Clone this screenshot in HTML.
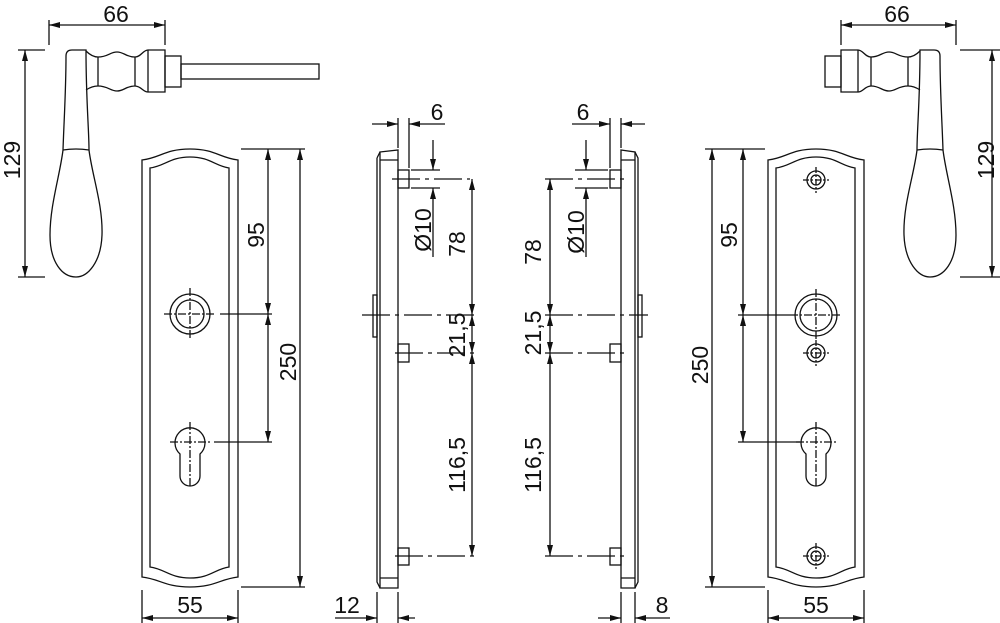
<!DOCTYPE html>
<html><head><meta charset="utf-8"><style>
html,body{margin:0;padding:0;background:#fff}
svg{display:block}
text{font-family:"Liberation Sans",Arial,sans-serif;font-size:23px;fill:#111}
</style></head><body>
<svg width="1000" height="623" viewBox="0 0 1000 623" xmlns="http://www.w3.org/2000/svg">
<defs>
<marker id="a" markerUnits="userSpaceOnUse" markerWidth="12" markerHeight="7" refX="11" refY="3" orient="auto-start-reverse"><path d="M0,0 L11,3 L0,6 Z" fill="#111"/></marker>
<g id="handle">
<path d="M66,56 Q66,50 72,50 L86,50 C86,100 89,130 89,150 C92,175 103,205 102,235 C101,262 88,277 76,277 C62,277 50,262 50,235 C50,205 60,175 63,150 C64,120 66,90 66,56 Z"/>
<path d="M63,150 Q76,148 89,150"/>
<path d="M86,51 Q92,57 98,57 C108,57 110,52 117,52 C124,52 126,57 135,57 C141,57 143,50 148,50 L165,50 L165,92 L148,92 C143,92 141,86 135,86 C126,86 124,91 117,91 C110,91 108,86 98,86 Q92,86 86,90"/>
<path d="M98,57 V86 M135,57 V86 M148,50 V92"/>
<rect x="165" y="56" width="16" height="31"/>
</g>
<g id="screw"><circle r="9"/><circle r="5"/><path d="M-13,0 H13 M0,-13 V13" stroke-dasharray="6 2 2 2"/></g>
<g id="key"><path d="M-10,12 A15,15 0 1 1 10,12 L10,34 A10,10 0 0 1 -10,34 Z"/><path d="M-20,0 H20 M0,-20 V46" stroke-dasharray="8 2 2 2"/></g>
<g id="rose"><circle r="21"/><circle r="16"/><path d="M-26,0 H26 M0,-26 V26" stroke-dasharray="8 2 2 2"/></g>
</defs>
<g fill="none" stroke="#111" stroke-width="1.3">
<use href="#handle"/>
<rect x="181" y="64" width="138" height="15"/>
<use href="#handle" transform="translate(1006,0) scale(-1,1)"/>
<path d="M49,45 V20 M165,45 V20"/>
<path d="M49,25 H165" marker-start="url(#a)" marker-end="url(#a)"/>
<path d="M18,50 H45 M18,277 H45"/>
<path d="M25,50 V277" marker-start="url(#a)" marker-end="url(#a)"/>
<path d="M841,45 V20 M956,45 V20"/>
<path d="M841,25 H956" marker-start="url(#a)" marker-end="url(#a)"/>
<path d="M960,50 H1000 M960,277 H1000"/>
<path d="M992,50 V277" marker-start="url(#a)" marker-end="url(#a)"/>

<path d="M142,160 C160,158 165,149 190,149 C215,149 220,158 238,160 L238,577 C220,579 215,587 190,587 C165,587 160,579 142,577 Z"/>
<path d="M150,168 C165,166 170,157 190,157 C210,157 215,166 229,168 L229,567 C215,569 210,578 190,578 C170,578 165,569 150,567 Z"/>
<g transform="translate(190,314)"><circle r="20"/><circle r="14"/><path d="M-26,0 H26 M0,-26 V26" stroke-dasharray="8 2 2 2"/></g>
<use href="#key" transform="translate(190,442)"/>
<path d="M241,149 H305 M220,314 H272 M214,442 H272 M241,587 H305"/>
<path d="M268,149 V314" marker-start="url(#a)" marker-end="url(#a)"/>
<path d="M268,314 V442" marker-start="url(#a)" marker-end="url(#a)"/>
<path d="M300,149 V587" marker-start="url(#a)" marker-end="url(#a)"/>
<path d="M142,590 V623 M238,590 V623"/>
<path d="M142,618 H238" marker-start="url(#a)" marker-end="url(#a)"/>

<path d="M768,160 C786,158 791,149 816,149 C841,149 846,158 864,160 L864,577 C846,579 841,587 816,587 C791,587 786,579 768,577 Z"/>
<path d="M776,168 C791,166 796,157 816,157 C836,157 841,166 855,168 L855,567 C841,569 836,578 816,578 C796,578 791,569 776,567 Z"/>
<use href="#screw" transform="translate(816,180)"/>
<use href="#rose" transform="translate(816,315)"/>
<use href="#screw" transform="translate(816,353)"/>
<use href="#key" transform="translate(816,442)"/>
<use href="#screw" transform="translate(816,556)"/>
<path d="M705,149 H765 M738,315 H790 M738,442 H800 M705,587 H765"/>
<path d="M743,149 V315" marker-start="url(#a)" marker-end="url(#a)"/>
<path d="M743,315 V442" marker-start="url(#a)" marker-end="url(#a)"/>
<path d="M712,149 V587" marker-start="url(#a)" marker-end="url(#a)"/>
<path d="M768,590 V623 M864,590 V623"/>
<path d="M768,618 H864" marker-start="url(#a)" marker-end="url(#a)"/>

<path d="M380,152 L398,150 L398,588 L380,588 Z"/>
<path d="M380,160 H398 M380,578 H398"/>
<path d="M377,158 L380,152 M377,158 V582 L380,588"/>
<rect x="373" y="295" width="4" height="42"/>
<rect x="398" y="170" width="11" height="18"/>
<rect x="398" y="344" width="11" height="18"/>
<rect x="398" y="548" width="11" height="17"/>
<path d="M392,179 H470 M362,315 H477 M395,353 H477 M395,556 H477" stroke-dasharray="28 5 4 5"/>
<path d="M411,170 H440 M411,188 H440"/>
<path d="M398,118 V148 M409,118 V168"/>
<path d="M372,124 H398" marker-end="url(#a)"/>
<path d="M445,124 H409" marker-end="url(#a)"/>
<path d="M433,140 V170" marker-end="url(#a)"/>
<path d="M433,257 V188" marker-end="url(#a)"/>
<path d="M472,179 V315" marker-start="url(#a)" marker-end="url(#a)"/>
<path d="M472,315 V353" marker-start="url(#a)" marker-end="url(#a)"/>
<path d="M472,353 V556" marker-start="url(#a)" marker-end="url(#a)"/>
<path d="M377,592 V623 M398,592 V623"/>
<path d="M335,618 H377" marker-end="url(#a)"/>
<path d="M415,618 H398" marker-end="url(#a)"/>

<path d="M621,150 L635,152 L635,588 L621,588 Z"/>
<path d="M621,160 H635 M621,578 H635"/>
<path d="M635,152 L638,158 V582 L635,588"/>
<rect x="638" y="295" width="4" height="42"/>
<rect x="610" y="170" width="11" height="18"/>
<rect x="610" y="344" width="11" height="18"/>
<rect x="610" y="548" width="11" height="17"/>
<path d="M545,179 H628 M545,315 H648 M545,353 H625 M545,556 H625" stroke-dasharray="28 5 4 5"/>
<path d="M575,170 H608 M575,188 H608"/>
<path d="M610,118 V168 M621,118 V148"/>
<path d="M572,124 H610" marker-end="url(#a)"/>
<path d="M645,124 H621" marker-end="url(#a)"/>
<path d="M586,140 V170" marker-end="url(#a)"/>
<path d="M586,257 V188" marker-end="url(#a)"/>
<path d="M550,179 V315" marker-start="url(#a)" marker-end="url(#a)"/>
<path d="M550,315 V353" marker-start="url(#a)" marker-end="url(#a)"/>
<path d="M550,353 V556" marker-start="url(#a)" marker-end="url(#a)"/>
<path d="M621,592 V623 M635,592 V623"/>
<path d="M598,618 H621" marker-end="url(#a)"/>
<path d="M670,618 H635" marker-end="url(#a)"/>
</g>
<g text-anchor="middle" dominant-baseline="central">
<text x="116" y="14">66</text>
<text x="897" y="14">66</text>
<text transform="translate(12,160) rotate(-90)">129</text>
<text transform="translate(986,160) rotate(-90)">129</text>
<text transform="translate(256,235) rotate(-90)">95</text>
<text transform="translate(288,362) rotate(-90)">250</text>
<text transform="translate(729,235) rotate(-90)">95</text>
<text transform="translate(700,365) rotate(-90)">250</text>
<text x="190" y="605">55</text>
<text x="816" y="605">55</text>
<text x="437" y="112">6</text>
<text x="583" y="112">6</text>
<text x="347" y="605">12</text>
<text x="662" y="605">8</text>
<text transform="translate(423,230) rotate(-90)">Ø10</text>
<text transform="translate(576,232) rotate(-90)">Ø10</text>
<text transform="translate(457,244) rotate(-90)">78</text>
<text transform="translate(457,335) rotate(-90)">21,5</text>
<text transform="translate(457,465) rotate(-90)">116,5</text>
<text transform="translate(533,252) rotate(-90)">78</text>
<text transform="translate(533,333) rotate(-90)">21,5</text>
<text transform="translate(533,465) rotate(-90)">116,5</text>
</g>
</svg>
</body></html>
